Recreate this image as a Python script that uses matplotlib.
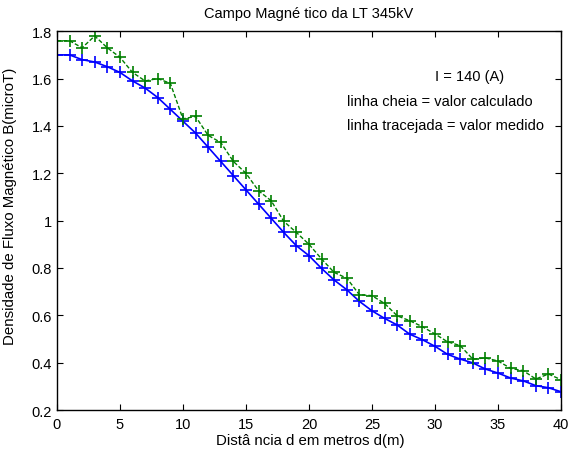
import numpy as np
import matplotlib
matplotlib.use("Agg")
import matplotlib.pyplot as plt

plt.rcParams['font.family'] = ['Liberation Sans', 'DejaVu Sans']

distancia = np.arange(0, 41)

# valor calculado (linha cheia)
b_calculado = [1.70, 1.70, 1.68, 1.67, 1.65, 1.626, 1.59, 1.56, 1.52, 1.47,
               1.42, 1.37, 1.31, 1.25, 1.19, 1.13, 1.07, 1.01, 0.95, 0.894,
               0.852, 0.798, 0.749, 0.708, 0.659, 0.619, 0.587, 0.559, 0.520, 0.497,
               0.469, 0.435, 0.415, 0.399, 0.373, 0.356, 0.335, 0.323, 0.303, 0.294,
               0.277]

# valor medido (linha tracejada)
b_medido = [1.76, 1.76, 1.73, 1.78, 1.73, 1.69, 1.626, 1.59, 1.60, 1.58,
            1.43, 1.44, 1.36, 1.33, 1.25, 1.20, 1.126, 1.084, 0.997, 0.95,
            0.90, 0.838, 0.781, 0.757, 0.687, 0.683, 0.650, 0.598, 0.577, 0.552,
            0.521, 0.488, 0.472, 0.415, 0.42, 0.407, 0.376, 0.366, 0.331, 0.352,
            0.328]

fig = plt.figure(figsize=(5.69, 4.52), dpi=100)
ax = fig.add_axes([0.100, 0.0907, 0.886, 0.838])

ax.plot(distancia, b_calculado, '-', color='#0000ff', marker='+', markersize=9,
        markeredgewidth=1.2, linewidth=1.2)
ax.plot(distancia, b_medido, '--', color='#007f00', marker='+', markersize=9,
        markeredgewidth=1.2, linewidth=1.0, dashes=(3, 1.5))

ax.set_xlim(0, 40)
ax.set_ylim(0.2, 1.8)
ax.set_xticks(range(0, 41, 5))
ax.set_yticks([0.2, 0.4, 0.6, 0.8, 1.0, 1.2, 1.4, 1.6, 1.8])
ax.set_yticklabels(['0.2', '0.4', '0.6', '0.8', '1', '1.2', '1.4', '1.6', '1.8'])
ax.tick_params(direction='in', top=True, right=True, labelsize=10.5, length=4)
ax.tick_params(axis='x', pad=5)
for s in ax.spines.values():
    s.set_linewidth(1.0)

ax.set_title('Campo Magné tico da LT 345kV', fontsize=10.5, pad=10)
ax.set_xlabel('Distâ ncia d em metros d(m)', fontsize=10.8)
ax.xaxis.set_label_coords(0.502, -0.062)
ax.set_ylabel('Densidade de Fluxo Magnético B(microT)', fontsize=10.8)
ax.yaxis.set_label_coords(-0.079, 0.54)

ax.text(30, 1.61, 'I = 140 (A)', fontsize=10.5, va='center')
ax.text(23.0, 1.505, 'linha cheia = valor calculado', fontsize=10.5, va='center')
ax.text(23.0, 1.403, 'linha tracejada = valor medido', fontsize=10.5, va='center')

fig.savefig('out.png', dpi=100)
